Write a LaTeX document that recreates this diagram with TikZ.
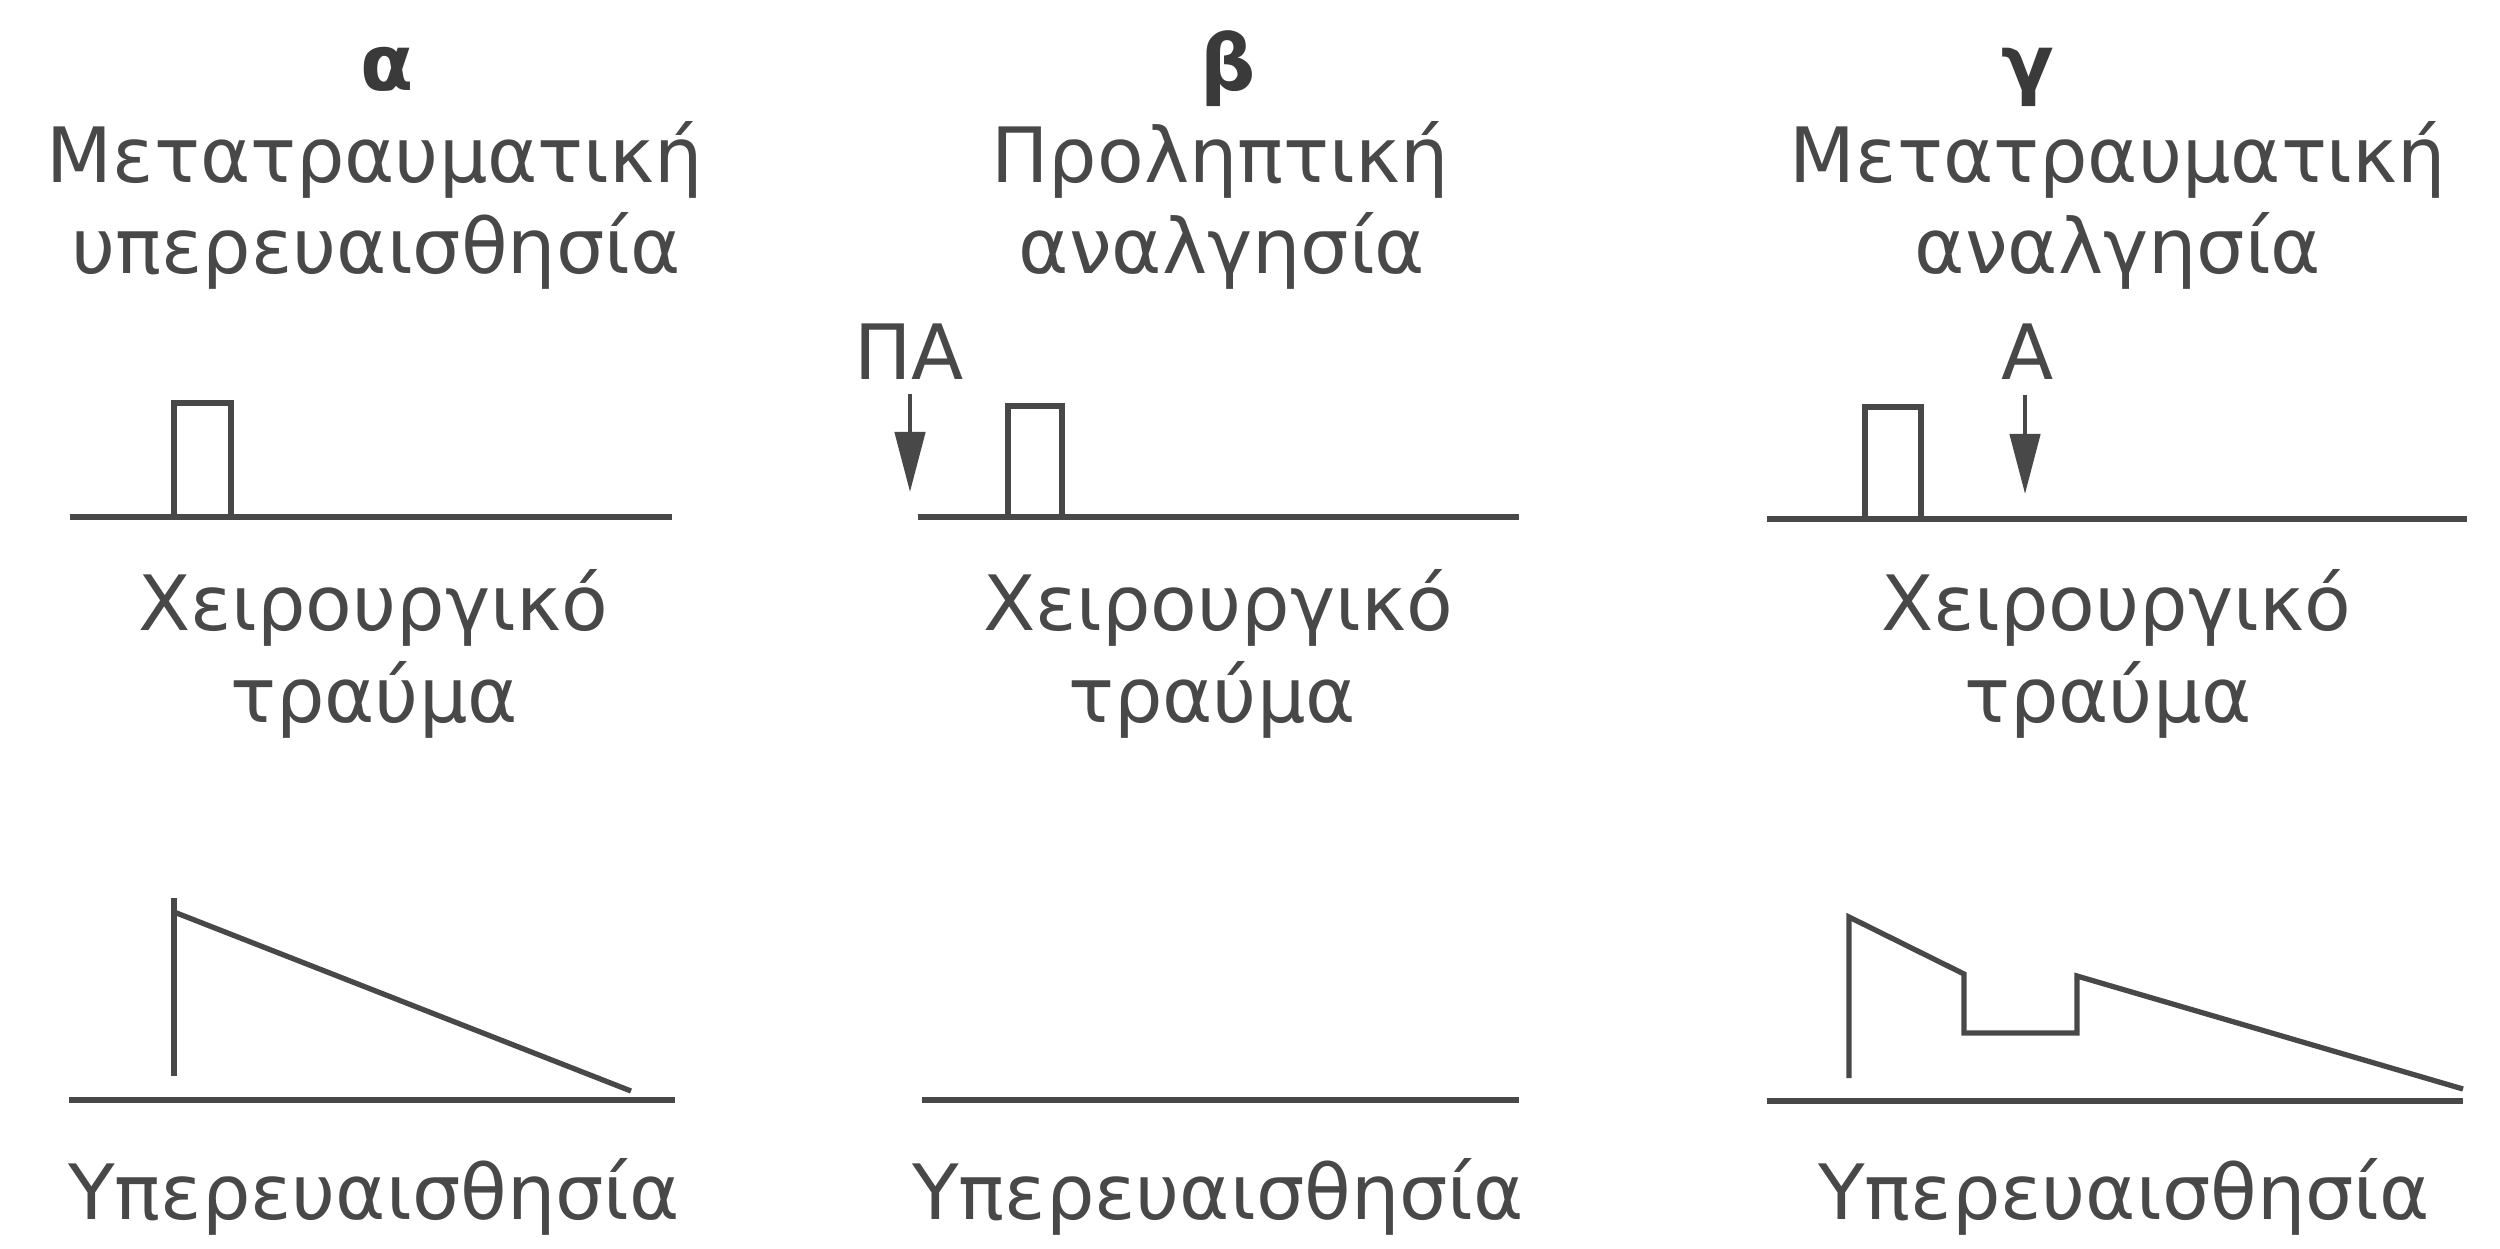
\documentclass[tikz,border=0pt]{standalone}
\usepackage{fontspec}
\setmainfont{DejaVu Sans}
\usetikzlibrary{arrows.meta}
\definecolor{ink}{RGB}{72,72,72}
\begin{document}
\begin{tikzpicture}[x=0.01cm,y=-0.01cm,
  txt/.style={anchor=base,inner sep=0pt,text=ink,font=\fontsize{21.7}{26}\selectfont},
  ttl/.style={anchor=base,inner sep=0pt,text=ink!80!black,font=\fontsize{22}{26}\selectfont\bfseries},
  ln/.style={draw=ink,line width=1.5pt,line join=miter},
  base/.style={draw=ink,line width=1.9pt},
  arr/.style={draw=ink,line width=1.3pt,-{Triangle[length=0.6cm,width=0.3cm]}}]
\useasboundingbox (0,0) rectangle (2500,1249);
% ---------- panel alpha ----------
\node[ttl] (ha) at (387,91) {α};
\node[txt] (a1) at (375,183) {Μετατραυματική};
\node[txt] (a2) at (376,274) {υπερευαισθησία};
\coordinate (aL1) at (70,517); \coordinate (aR1) at (672,517);
\draw[base] (aL1) -- (aR1);
\draw[ln] (174,517) -- (174,403) -- (231,403) -- (231,517);
\node[txt] (a3) at (373,630) {Χειρουργικό};
\node[txt] (a4) at (374,722) {τραύμα};
\draw[ln] (174,1076) -- (174,898);
\draw[ln] (174,912) -- (631,1091);
\coordinate (aL2) at (69,1100); \coordinate (aR2) at (675,1100);
\draw[base] (aL2) -- (aR2);
\node[txt] (a5) at (374,1219) {Υπερευαισθησία};
% ---------- panel beta ----------
\node[ttl] (hb) at (1228,91) {β};
\node[txt] (b1) at (1220,183) {Προληπτική};
\node[txt] (b2) at (1222,274) {αναλγησία};
\node[txt] (pa) at (909,380) {ΠΑ};
\coordinate (paS) at (910,394); \coordinate (paT) at (910,492);
\draw[arr] (paS) -- (paT);
\coordinate (bL1) at (918,517); \coordinate (bR1) at (1519,517);
\draw[base] (bL1) -- (bR1);
\draw[ln] (1008,517) -- (1008,406) -- (1062,406) -- (1062,517);
\node[txt] (b3) at (1218,630) {Χειρουργικό};
\node[txt] (b4) at (1212,722) {τραύμα};
\coordinate (bL2) at (922,1100); \coordinate (bR2) at (1519,1100);
\draw[base] (bL2) -- (bR2);
\node[txt] (b5) at (1218,1219) {Υπερευαισθησία};
% ---------- panel gamma ----------
\node[ttl] (hc) at (2028,91) {γ};
\node[txt] (c1) at (2118,183) {Μετατραυματική};
\node[txt] (c2) at (2118,274) {αναλγησία};
\node[txt] (aa) at (2028,380) {Α};
\coordinate (aS) at (2025,395); \coordinate (aT) at (2025,494);
\draw[arr] (aS) -- (aT);
\coordinate (cL1) at (1767,519); \coordinate (cR1) at (2467,519);
\draw[base] (cL1) -- (cR1);
\draw[ln] (1865,519) -- (1865,407) -- (1921,407) -- (1921,519);
\node[txt] (c3) at (2116,630) {Χειρουργικό};
\node[txt] (c4) at (2108,722) {τραύμα};
\draw[ln] (1849,1078) -- (1849,917) -- (1964,974) -- (1964,1033) -- (2077,1033) -- (2077,976) -- (2463,1089);
\coordinate (cL2) at (1767,1101); \coordinate (cR2) at (2463,1101);
\draw[base] (cL2) -- (cR2);
\node[txt] (c5) at (2124,1219) {Υπερευαισθησία};
\end{tikzpicture}
\end{document}
